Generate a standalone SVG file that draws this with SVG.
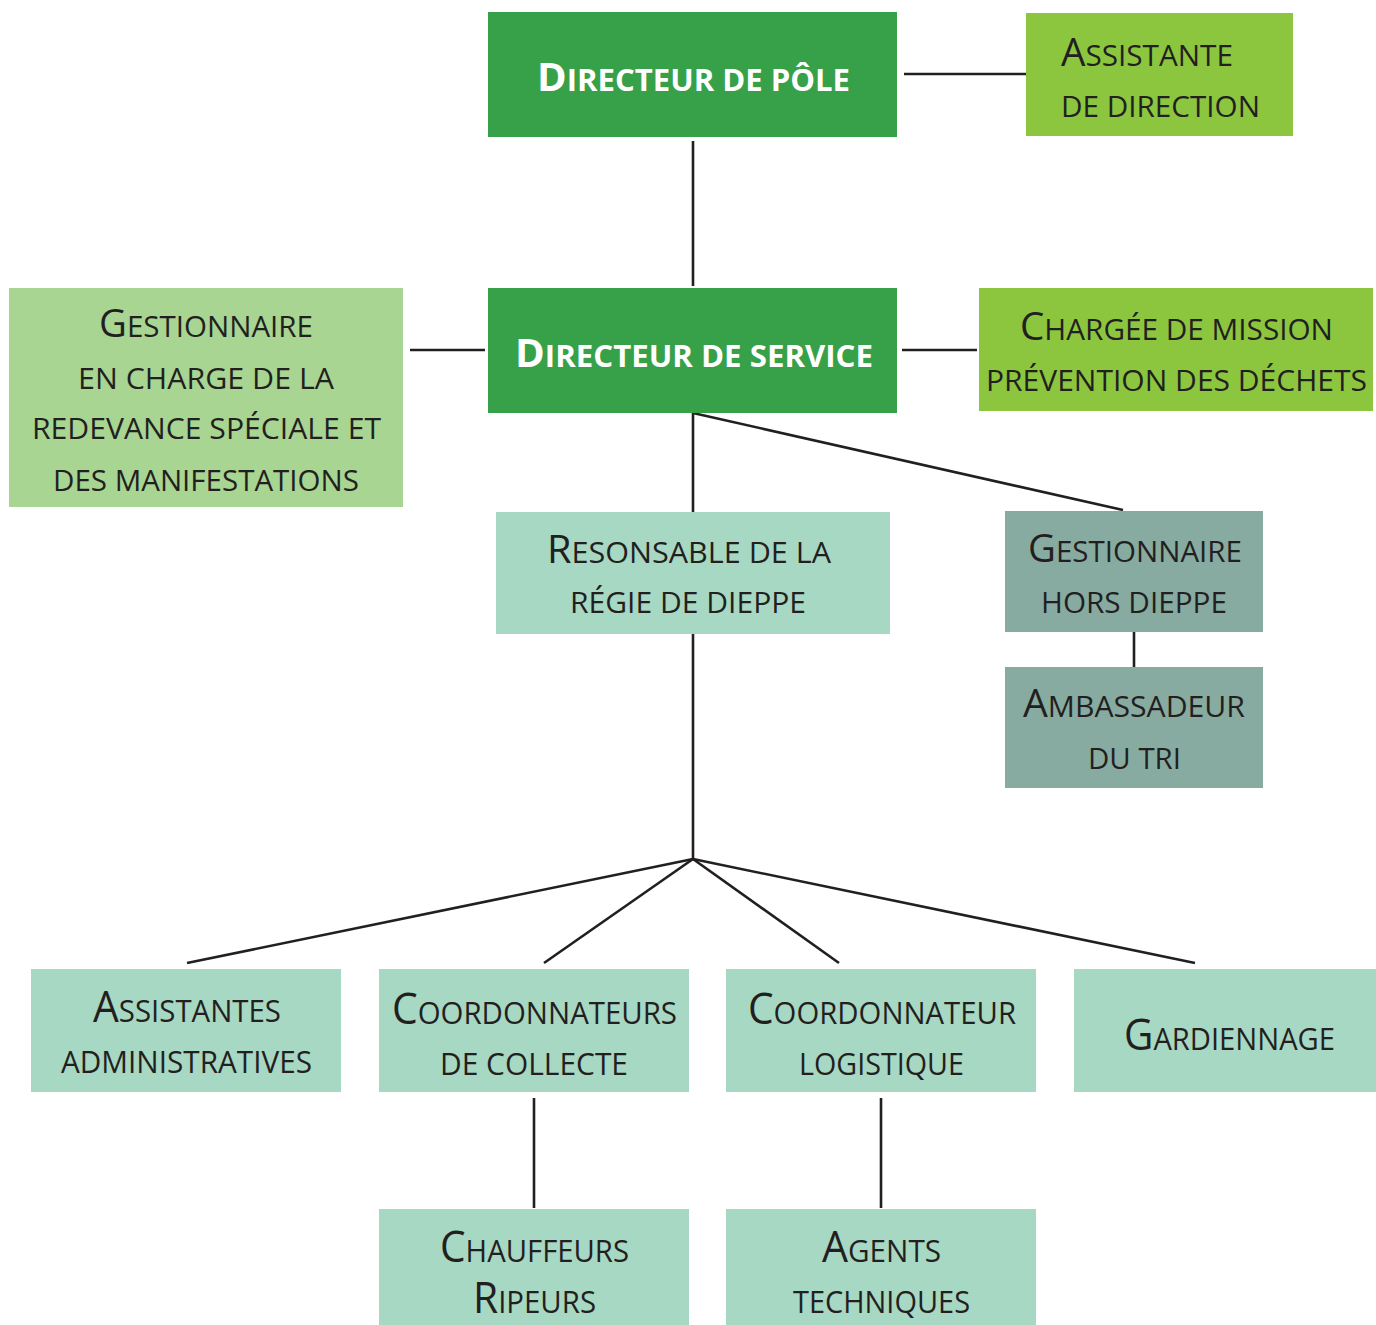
<svg xmlns="http://www.w3.org/2000/svg" width="1376" height="1325" viewBox="0 0 1376 1325">
<style>
text{font-family:"Open Sans","Noto Sans","DejaVu Sans",sans-serif;fill:#231f20;font-size:30px;text-anchor:middle}
.w{fill:#ffffff;font-weight:bold;font-size:31px}
.big{font-size:39px}
.w .big{font-size:40px}
.cond{font-size:31px}
.cond .big{font-size:43px}
.dg{fill:#36a149}.lg{fill:#8cc63f}.pg{fill:#a8d592}.mt{fill:#a7d8c3}.gg{fill:#87aba0}
#connectors line{stroke:#231f20;stroke-width:2.6;fill:none}
</style>
<g id="connectors">
<line x1="693" y1="141" x2="693" y2="286"/>
<line x1="904" y1="74" x2="1026" y2="74"/>
<line x1="410" y1="350" x2="485" y2="350"/>
<line x1="902" y1="350" x2="977" y2="350"/>
<line x1="693" y1="413" x2="1123" y2="510"/>
<line x1="693" y1="413" x2="693" y2="512"/>
<line x1="1134" y1="632" x2="1134" y2="667"/>
<line x1="693" y1="634" x2="693" y2="859"/>
<line x1="693" y1="859" x2="187" y2="963"/>
<line x1="693" y1="859" x2="544" y2="963"/>
<line x1="693" y1="859" x2="839" y2="963"/>
<line x1="693" y1="859" x2="1195" y2="963"/>
<line x1="534" y1="1098" x2="534" y2="1208"/>
<line x1="881" y1="1098" x2="881" y2="1208"/>
</g>
<g id="directeur-pole">
<rect class="dg" x="488" y="12" width="409" height="125"/>
<text class="w" x="693.5" y="91" textLength="313" lengthAdjust="spacingAndGlyphs"><tspan class="big">D</tspan>IRECTEUR DE PÔLE</text>
</g>
<g id="assistante-direction">
<rect class="lg" x="1026" y="13" width="267" height="123"/>
<text x="1061" y="66" style="text-anchor:start" textLength="172" lengthAdjust="spacingAndGlyphs"><tspan class="big">A</tspan>SSISTANTE</text>
<text x="1061" y="117" style="text-anchor:start" textLength="199" lengthAdjust="spacingAndGlyphs">DE DIRECTION</text>
</g>
<g id="directeur-service">
<rect class="dg" x="488" y="288" width="409" height="125"/>
<text class="w" x="694" y="367" textLength="358" lengthAdjust="spacingAndGlyphs"><tspan class="big">D</tspan>IRECTEUR DE SERVICE</text>
</g>
<g id="gestionnaire-redevance">
<rect class="pg" x="9" y="288" width="394" height="219"/>
<text x="206" y="337" textLength="214" lengthAdjust="spacingAndGlyphs"><tspan class="big">G</tspan>ESTIONNAIRE</text>
<text x="206" y="389" textLength="256" lengthAdjust="spacingAndGlyphs">EN CHARGE DE LA</text>
<text x="206.5" y="439" textLength="349" lengthAdjust="spacingAndGlyphs">REDEVANCE SPÉCIALE ET</text>
<text x="206" y="491" textLength="306" lengthAdjust="spacingAndGlyphs">DES MANIFESTATIONS</text>
</g>
<g id="chargee-mission">
<rect class="lg" x="979" y="288" width="394" height="123"/>
<text x="1176.5" y="340" textLength="313" lengthAdjust="spacingAndGlyphs"><tspan class="big">C</tspan>HARGÉE DE MISSION</text>
<text x="1176.5" y="391" textLength="381" lengthAdjust="spacingAndGlyphs">PRÉVENTION DES DÉCHETS</text>
</g>
<g id="responsable-regie">
<rect class="mt" x="496" y="512" width="394" height="122"/>
<text x="689" y="563" textLength="284" lengthAdjust="spacingAndGlyphs"><tspan class="big">R</tspan>ESONSABLE DE LA</text>
<text x="688" y="613" textLength="236" lengthAdjust="spacingAndGlyphs">RÉGIE DE DIEPPE</text>
</g>
<g id="gestionnaire-hors-dieppe">
<rect class="gg" x="1005" y="511" width="258" height="121"/>
<text x="1135" y="562" textLength="214" lengthAdjust="spacingAndGlyphs"><tspan class="big">G</tspan>ESTIONNAIRE</text>
<text x="1134" y="613" textLength="186" lengthAdjust="spacingAndGlyphs">HORS DIEPPE</text>
</g>
<g id="ambassadeur-tri">
<rect class="gg" x="1005" y="667" width="258" height="121"/>
<text x="1134" y="717" textLength="222" lengthAdjust="spacingAndGlyphs"><tspan class="big">A</tspan>MBASSADEUR</text>
<text x="1134.5" y="769" textLength="93" lengthAdjust="spacingAndGlyphs">DU TRI</text>
</g>
<g id="assistantes-administratives">
<rect class="mt" x="31" y="969" width="310" height="123"/>
<text class="cond" x="187" y="1022" textLength="188" lengthAdjust="spacingAndGlyphs"><tspan class="big">A</tspan>SSISTANTES</text>
<text class="cond" x="186.5" y="1073" textLength="251" lengthAdjust="spacingAndGlyphs">ADMINISTRATIVES</text>
</g>
<g id="coordonnateurs-collecte">
<rect class="mt" x="379" y="969" width="310" height="123"/>
<text class="cond" x="534.5" y="1024" textLength="285" lengthAdjust="spacingAndGlyphs"><tspan class="big">C</tspan>OORDONNATEURS</text>
<text class="cond" x="534" y="1075" textLength="188" lengthAdjust="spacingAndGlyphs">DE COLLECTE</text>
</g>
<g id="coordonnateur-logistique">
<rect class="mt" x="726" y="969" width="310" height="123"/>
<text class="cond" x="882" y="1024" textLength="268" lengthAdjust="spacingAndGlyphs"><tspan class="big">C</tspan>OORDONNATEUR</text>
<text class="cond" x="881.5" y="1075" textLength="165" lengthAdjust="spacingAndGlyphs">LOGISTIQUE</text>
</g>
<g id="gardiennage">
<rect class="mt" x="1074" y="969" width="302" height="123"/>
<text class="cond" x="1229.5" y="1050" textLength="211" lengthAdjust="spacingAndGlyphs"><tspan class="big">G</tspan>ARDIENNAGE</text>
</g>
<g id="chauffeurs-ripeurs">
<rect class="mt" x="379" y="1209" width="310" height="116"/>
<text class="cond" x="534.5" y="1262" textLength="189" lengthAdjust="spacingAndGlyphs"><tspan class="big">C</tspan>HAUFFEURS</text>
<text class="cond" x="534.5" y="1313" textLength="123" lengthAdjust="spacingAndGlyphs"><tspan class="big">R</tspan>IPEURS</text>
</g>
<g id="agents-techniques">
<rect class="mt" x="726" y="1209" width="310" height="116"/>
<text class="cond" x="881.5" y="1262" textLength="119" lengthAdjust="spacingAndGlyphs"><tspan class="big">A</tspan>GENTS</text>
<text class="cond" x="881.5" y="1313" textLength="177" lengthAdjust="spacingAndGlyphs">TECHNIQUES</text>
</g>
</svg>
